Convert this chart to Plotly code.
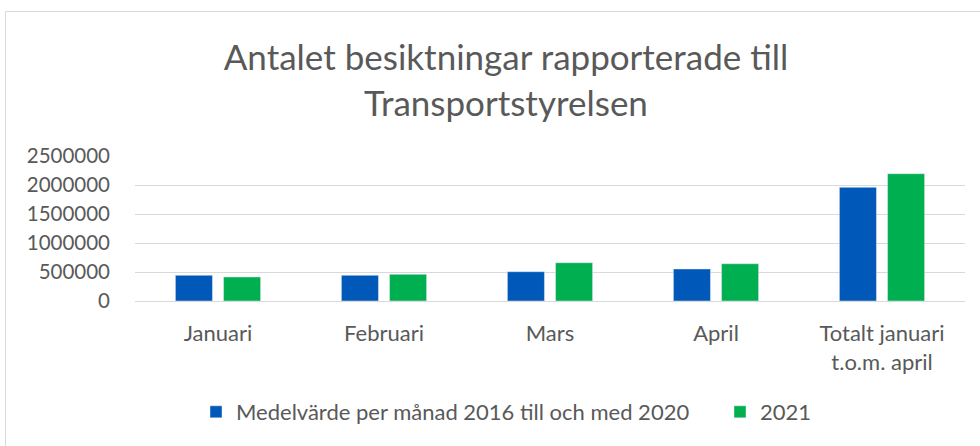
import plotly.graph_objects as go

categories = ["Januari", "Februari", "Mars", "April", "Totalt januari<br>t.o.m. april"]
series_names = ["Medelvärde per månad 2016 till och med 2020", "2021"]
avg_2016_2020 = [443000, 443000, 505000, 552000, 1960000]
values_2021 = [414000, 460000, 660000, 643000, 2195000]
y_ticks = [0, 500000, 1000000, 1500000, 2000000, 2500000]

FONT = "Lato"
TXT = "#595959"

fig = go.Figure()
fig.add_trace(go.Bar(x=categories, y=avg_2016_2020, name=series_names[0],
                     marker=dict(color="#0058B8"), legend="legend"))
fig.add_trace(go.Bar(x=categories, y=values_2021, name=series_names[1],
                     marker=dict(color="#00B050"), legend="legend2"))

W, H = 980, 446
L, R, T, B = 135, 15, 156, 145
pw = W - L - R
ph = H - T - B

def px_x(p):
    return (p - L) / pw

def px_y(p):
    return (H - B - p) / ph

legend_common = dict(orientation="h", xanchor="left", yanchor="middle",
                     font=dict(family=FONT, size=22, color=TXT),
                     itemclick=False, bgcolor="rgba(0,0,0,0)",
                     borderwidth=0, tracegroupgap=0)

fig.update_layout(
    width=W, height=H,
    margin=dict(l=L, r=R, t=T, b=B, pad=0),
    paper_bgcolor="white", plot_bgcolor="white",
    font=dict(family=FONT, color=TXT, size=22),
    barmode="group", bargap=0.42, bargroupgap=0.23,
    showlegend=True,
    legend=dict(x=px_x(196), y=px_y(412), **legend_common),
    legend2=dict(x=px_x(720), y=px_y(412), **legend_common),
    xaxis=dict(showgrid=False, showline=False, ticks="", zeroline=False,
               ticklabelstandoff=17,
               tickfont=dict(family=FONT, size=22, color=TXT)),
    yaxis=dict(range=[0, 2500000], tickvals=y_ticks, tickformat="d",
               showgrid=True, gridcolor="#D9D9D9", gridwidth=1,
               zeroline=True, zerolinecolor="#D9D9D9", zerolinewidth=1,
               showline=False, ticks="", ticklabelstandoff=24,
               tickfont=dict(family=FONT, size=20.5, color=TXT)),
    title=dict(text="Antalet besiktningar rapporterade till<br>Transportstyrelsen",
               x=506 / W, xanchor="center", y=1 - 70 / H, yanchor="middle",
               xref="container", yref="container",
               font=dict(family=FONT, size=35, color=TXT)),
    shapes=[dict(type="rect", xref="paper", yref="paper",
                 x0=px_x(5.5), x1=px_x(990), y0=px_y(460), y1=px_y(11.5),
                 line=dict(color="#D9D9D9", width=1), fillcolor="rgba(0,0,0,0)",
                 layer="below")],
)

fig.write_html("out.html",
               config={"displayModeBar": False},
               post_script="document.body.style.margin='0';document.body.style.overflow='hidden';")
